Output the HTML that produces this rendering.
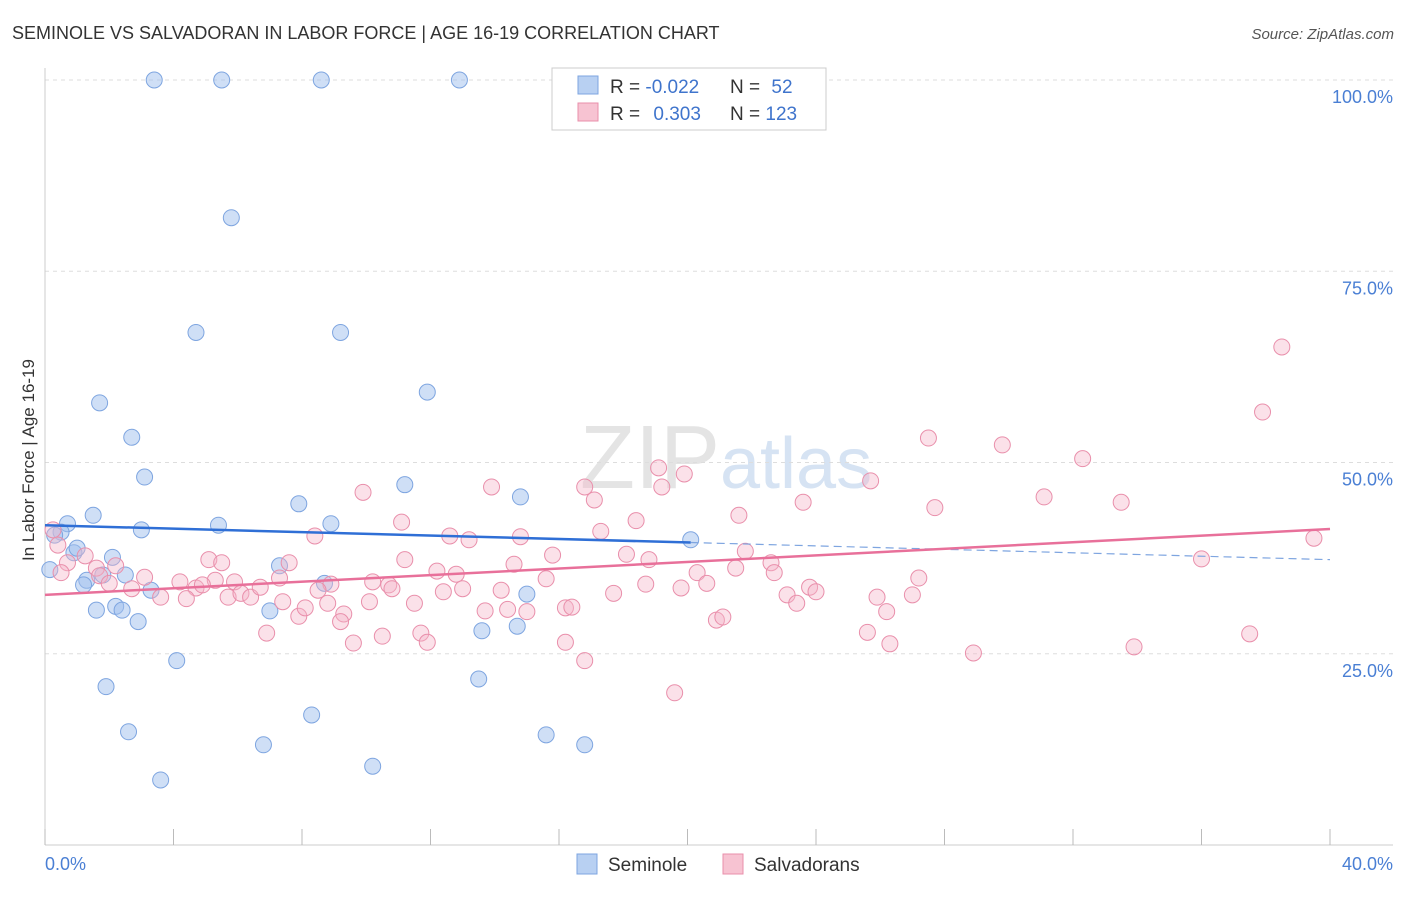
<!DOCTYPE html>
<html><head><meta charset="utf-8"><style>
body{margin:0;background:#fff;font-family:"Liberation Sans",sans-serif}
svg text{font-family:"Liberation Sans",sans-serif}
</style></head><body>
<svg id="chart" width="1406" height="892" xmlns="http://www.w3.org/2000/svg">
<text x="12" y="39" font-size="18" fill="#333">SEMINOLE VS SALVADORAN IN LABOR FORCE | AGE 16-19 CORRELATION CHART</text>
<text x="1394" y="39" font-size="15" fill="#555" text-anchor="end" font-style="italic">Source: ZipAtlas.com</text>
<text x="720" y="488" font-size="90" fill="#e4e4e4" text-anchor="end" font-family="Liberation Serif">ZIP</text>
<text x="720" y="488" font-size="72" fill="#d6e3f3">atlas</text>
<g id="grid"></g><g id="axes"></g><g id="pts"></g><g id="trend"></g>
<text x="34" y="460" font-size="17" fill="#333" text-anchor="middle" transform="rotate(-90 34 460)">In Labor Force | Age 16-19</text>
<text x="45" y="870" font-size="18" fill="#4a7fd4">0.0%</text>
<text x="1393" y="870" font-size="18" fill="#4a7fd4" text-anchor="end">40.0%</text>
<g>
<rect x="552" y="68" width="274" height="62" fill="#fff" stroke="#ccc"/>
<rect x="578" y="76" width="20" height="18" fill="#b8d0f2" stroke="#7ea5e0"/>
<rect x="578" y="103" width="20" height="18" fill="#f7c3d2" stroke="#e98fab"/>
<text x="610" y="93" font-size="19" fill="#333">R = <tspan fill="#3f74cc">-0.022</tspan></text>
<text x="730" y="93" font-size="19" fill="#333">N = <tspan fill="#3f74cc" dx="6">52</tspan></text>
<text x="610" y="120" font-size="19" fill="#333">R = <tspan fill="#3f74cc" dx="8">0.303</tspan></text>
<text x="730" y="120" font-size="19" fill="#333">N = <tspan fill="#3f74cc">123</tspan></text>
</g>
<g>
<rect x="577" y="854" width="20" height="20" fill="#b8d0f2" stroke="#7ea5e0"/>
<text x="608" y="871" font-size="19" fill="#333">Seminole</text>
<rect x="723" y="854" width="20" height="20" fill="#f7c3d2" stroke="#e98fab"/>
<text x="754" y="871" font-size="19" fill="#333">Salvadorans</text>
</g>
</svg>
<script>
const yTicks=[25,50,75,100];
const yTickLabels=["25.0%","50.0%","75.0%","100.0%"];
const xTicks=[0,4,8,12,16,20,24,28,32,36,40];
const seminoleX=[3.4,5.5,8.6,12.9,5.8,4.7,9.2,11.9,1.7,2.7,3.1,11.2,14.8,7.9,1.5,0.7,5.4,8.9,3.0,0.5,0.3,0.15,0.9,1.0,2.1,1.8,2.5,1.3,1.2,7.3,8.7,3.3,2.2,1.6,2.4,7.0,2.9,15.0,13.6,14.7,20.1,4.1,1.9,13.5,8.3,2.6,6.8,15.6,16.8,3.6,10.2];
const seminoleY=[100,100,100,100,82,67,67,59.2,57.8,53.3,48.1,47.1,45.5,44.6,43.1,42,41.8,42,41.2,40.9,40.5,36,38.2,38.8,37.6,35.3,35.3,34.6,34,36.5,34.2,33.3,31.2,30.7,30.7,30.6,29.2,32.8,28,28.6,39.9,24.1,20.7,21.7,17,14.8,13.1,14.4,13.1,8.5,10.3];
const salvX=[38.5,37.9,27.5,29.8,32.3,19.1,19.9,25.7,13.9,16.8,19.2,9.9,17.1,23.6,31.1,33.5,27.7,21.6,18.4,11.1,17.3,12.6,13.2,14.8,8.4,39.5,0.25,0.4,1.25,0.7,1.6,2.2,0.5,1.7,2.0,3.1,2.7,3.6,4.2,4.7,4.4,5.1,5.5,5.3,4.9,5.9,5.7,6.1,6.4,6.7,6.9,7.3,7.6,7.4,7.9,8.1,8.8,8.9,8.5,9.3,9.2,9.6,10.1,10.2,10.5,10.7,10.8,11.2,11.5,11.7,11.9,12.2,12.4,12.8,13,13.7,14.2,14.4,14.6,15,15.6,15.8,16.2,16.4,16.2,16.8,17.7,18.1,18.7,18.8,19.6,19.8,20.3,20.6,20.9,21.1,21.5,21.8,22.6,22.7,23.1,23.4,23.8,24,25.6,25.9,26.2,26.3,27,27.2,28.9,33.9,36,37.5];
const salvY=[65.1,56.6,53.2,52.3,50.5,49.3,48.5,47.6,46.8,46.8,46.8,46.1,45.1,44.8,45.5,44.8,44.1,43.1,42.4,42.2,41,40.4,39.9,40.3,40.4,40.1,41.2,39.2,37.8,36.9,36.2,36.5,35.6,35.2,34.2,35,33.5,32.4,34.4,33.6,32.2,37.3,36.9,34.6,34,34.4,32.4,32.9,32.4,33.7,27.7,34.9,36.9,31.8,29.9,31,31.6,34.1,33.3,30.2,29.2,26.4,31.8,34.4,27.3,34,33.5,37.3,31.6,27.7,26.5,35.8,33.1,35.4,33.5,30.6,33.3,30.8,36.7,30.5,34.8,37.9,31,31.1,26.5,24.1,32.9,38,34.1,37.3,19.9,33.6,35.6,34.2,29.4,29.8,36.2,38.4,36.9,35.6,32.7,31.6,33.7,33.1,27.8,32.4,30.5,26.3,32.7,34.9,25.1,25.9,37.4,27.6];
const blueTrend=[41.8,37.3];
const pinkTrend=[32.7,41.3];
const X=v=>45+v/40*1285, Y=v=>845-v/100*765;
const NS="http://www.w3.org/2000/svg";
function mk(p,t,a){const e=document.createElementNS(NS,t);for(const k in a)e.setAttribute(k,a[k]);document.getElementById(p).appendChild(e);return e;}
yTicks.forEach((t,i)=>{
 let l=mk('grid','line',{x1:45,x2:1393,y1:Y(t),y2:Y(t),stroke:'#ddd','stroke-dasharray':'4,4'});
 
 
 let tx=mk('grid','text',{x:1393,y:Y(t)+23,'font-size':18,fill:'#4a7fd4','text-anchor':'end'});
 tx.textContent=yTickLabels[i];
 
 
});
let ax=mk('axes','line',{x1:45,x2:45,y1:68,y2:845,stroke:'#ccc'});


let bx=mk('axes','line',{x1:45,x2:1393,y1:845,y2:845,stroke:'#ccc'});


xTicks.forEach(t=>{
 let l=mk('axes','line',{x1:X(t),x2:X(t),y1:829,y2:845,stroke:'#bbb'});
 
 
});
seminoleX.forEach((v,i)=>{
 let c=mk('pts','circle',{cx:X(v),cy:Y(seminoleY[i]),r:8,fill:'rgba(160,192,238,0.5)',stroke:'#7ea5e0','stroke-width':1});
 
 
});
salvX.forEach((v,i)=>{
 let c=mk('pts','circle',{cx:X(v),cy:Y(salvY[i]),r:8,fill:'rgba(245,180,200,0.4)',stroke:'#e98fab','stroke-width':1});
 
 
});
const bAt=x=>blueTrend[0]+(blueTrend[1]-blueTrend[0])*x/40;
let b1=mk('trend','line',{x1:X(0),y1:Y(bAt(0)),x2:X(20.1),y2:Y(bAt(20.1)),stroke:'#2f6fd6','stroke-width':2.5});


let b2=mk('trend','line',{x1:X(20.1),y1:Y(bAt(20.1)),x2:X(40),y2:Y(bAt(40)),stroke:'#7ea5e0','stroke-width':1.2,'stroke-dasharray':'8,5'});


let p=mk('trend','line',{x1:X(0),y1:Y(pinkTrend[0]),x2:X(40),y2:Y(pinkTrend[1]),stroke:'#e8709a','stroke-width':2.5});


</script>
</body></html>
